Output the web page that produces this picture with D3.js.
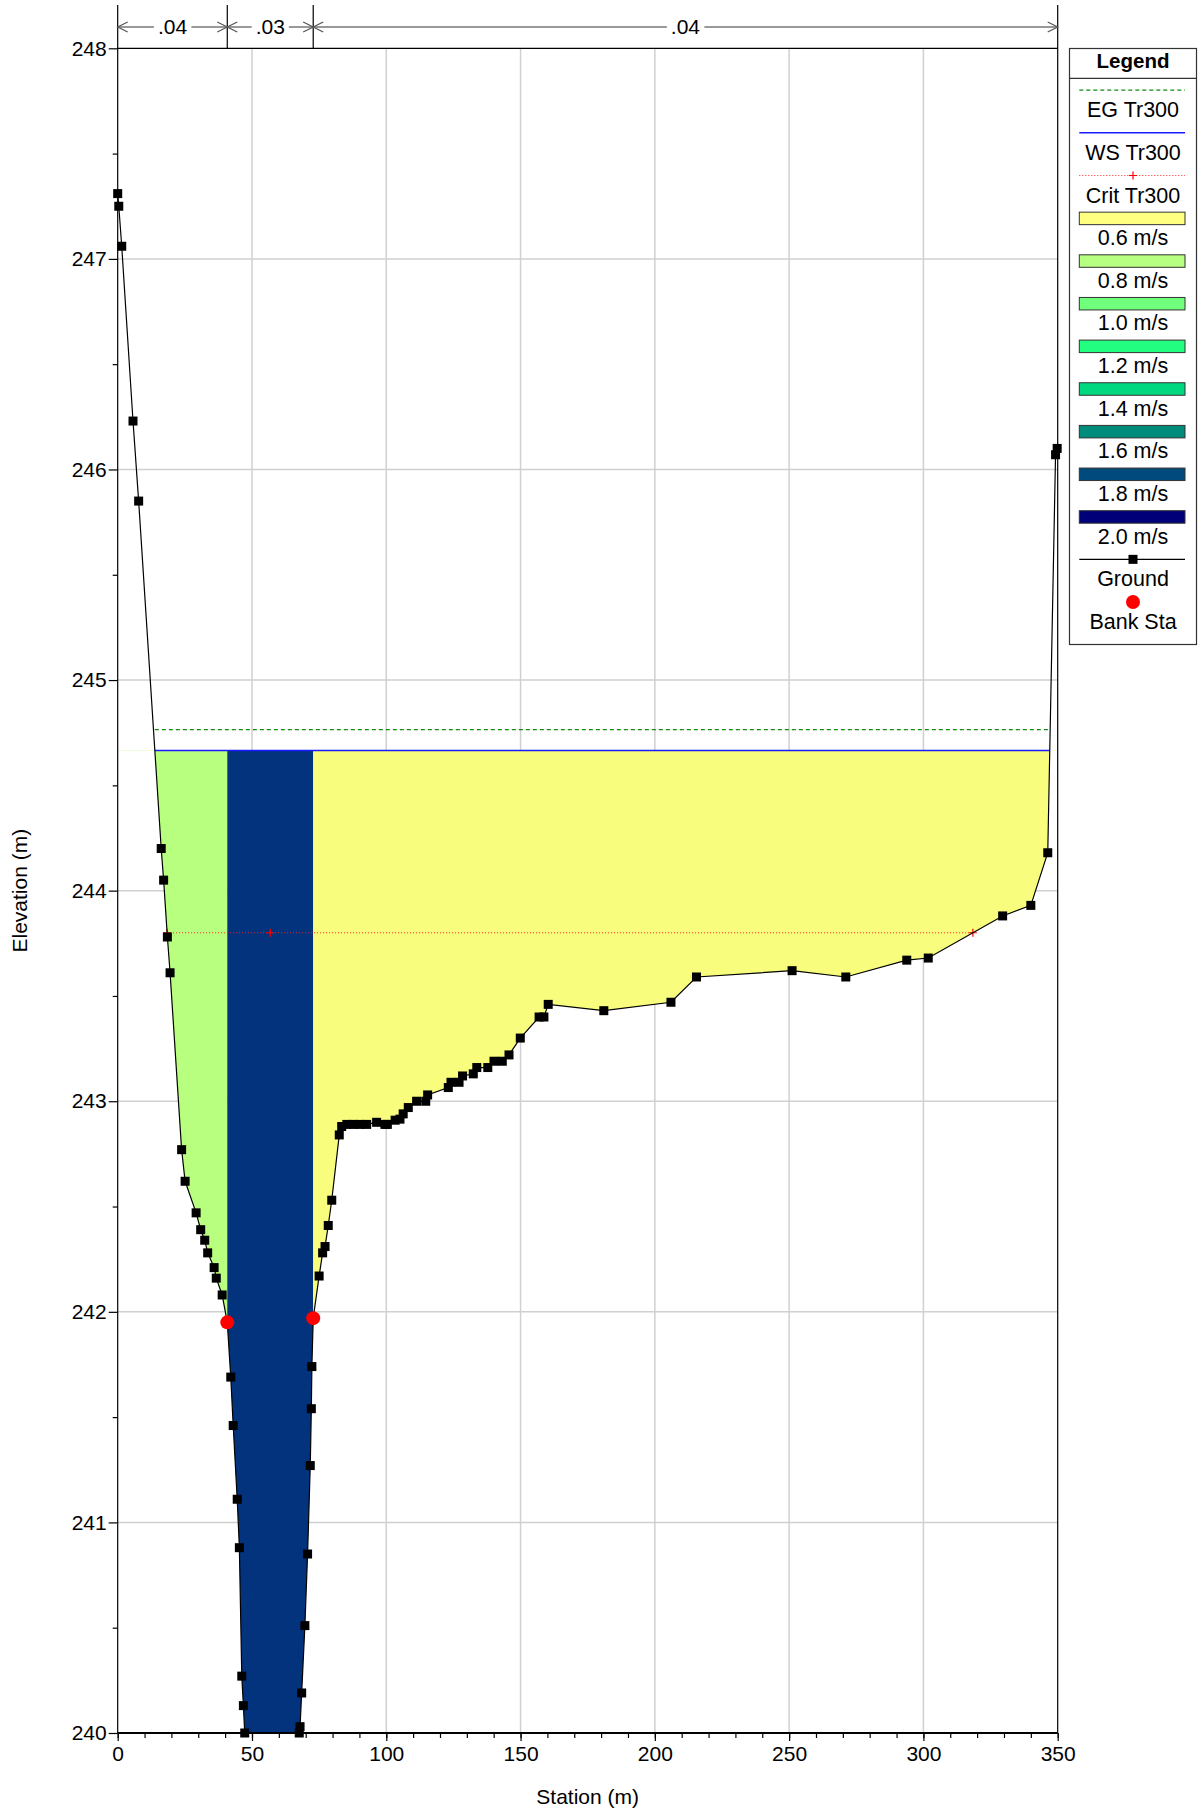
<!DOCTYPE html>
<html lang="en">
<head>
    <meta charset="UTF-8">
    <title>Cross Section Tr300</title>
    <style>
        body { margin: 0; background: #fff; }
        text { font-family: "Liberation Sans", Arial, sans-serif; }
    </style>
</head>
<body>
<script src='https://d3js.org/d3.v7.min.js' type='text/javascript'></script>
<script>
    // ground survey points
    var station = [0, 0.4, 1.5, 5.7, 7.8, 16.2, 17.1, 18.5, 19.5, 23.8, 25.1, 29.2, 30.9, 32.4, 33.5, 35.9, 36.7, 38.9,
        40.8, 42.1, 43.0, 44.5, 45.3, 46.2, 46.8, 47.3, 67.6, 67.9, 68.5, 69.7, 70.7, 71.7, 72.1, 72.3, 72.8,
        75.0, 76.3, 77.2, 78.4, 79.7, 82.5, 83.4, 85.3, 87.7, 90.2, 92.7, 96.4, 99.5, 100.4, 103.3, 105.1,
        106.3, 108.2, 111.3, 114.7, 115.4, 123.1, 124.1, 127.1, 128.4, 132.4, 133.7, 137.8, 140.1, 143.2,
        145.7, 149.9, 156.9, 158.7, 160.3, 181.0, 206.0, 215.5, 251.1, 271.1, 293.8, 301.8, 329.5, 340.0,
        346.3, 349.2, 349.8];
    var elevation = [247.31, 247.25, 247.06, 246.23, 245.85, 244.20, 244.05, 243.78, 243.61, 242.77, 242.62, 242.47, 242.39, 242.34, 242.28, 242.21, 242.16, 242.08,
        241.95, 241.69, 241.46, 241.11, 240.88, 240.27, 240.13, 240.00, 240.00, 240.03, 240.19, 240.51, 240.85, 241.27, 241.54, 241.74, 241.97,
        242.17, 242.28, 242.31, 242.41, 242.53, 242.84, 242.88, 242.89, 242.89, 242.89, 242.89, 242.90, 242.89, 242.89, 242.91, 242.915,
        242.94, 242.97, 243.00, 243.00, 243.03, 243.065, 243.09, 243.09, 243.12, 243.13, 243.16, 243.16, 243.19, 243.19,
        243.22, 243.30, 243.40, 243.40, 243.46, 243.43, 243.47, 243.59, 243.62, 243.59, 243.67, 243.68, 243.88, 243.93,
        244.18, 246.07, 246.10];
    var bankStations = [40.8, 72.8];
    var wsElev = 244.665;
    var egElev = 244.765;
    var critElev = 243.80;
    var nValues = [".04", ".03", ".04"];
    var zoneColors = ["#b9ff7f", "#02337c", "#f9fd7d"];
    var xTicks = [0, 50, 100, 150, 200, 250, 300, 350];
    var yTicks = [240, 241, 242, 243, 244, 245, 246, 247, 248];
    var velLabels = ["0.6 m/s", "0.8 m/s", "1.0 m/s", "1.2 m/s", "1.4 m/s", "1.6 m/s", "1.8 m/s", "2.0 m/s"];
    var velColors = ["#ffff80", "#b6ff80", "#70ff7c", "#22ff80", "#00d880", "#008c7a", "#004a7e", "#000078"];

    const W = 1198, H = 1812;
    const pL = 117.7, pR = 1057.7, pT = 48.3, pB = 1733;

    const svg = d3.select("body").append("svg")
        .attr("width", W)
        .attr("height", H);

    const x = d3.scaleLinear().domain([0, 350]).range([pL, pR]);
    const y = d3.scaleLinear().domain([240, 248]).range([pB, pT]);

    const defs = svg.append("defs");
    defs.append("clipPath").attr("id", "plotClip")
        .append("rect").attr("x", pL).attr("y", pT).attr("width", pR - pL).attr("height", pB - pT);

    // grid
    svg.append("g").selectAll("line")
        .data(xTicks.slice(1, -1))
        .enter().append("line")
        .attr("x1", d => x(d)).attr("x2", d => x(d))
        .attr("y1", pT).attr("y2", pB)
        .attr("stroke", "#d0d0d0").attr("stroke-width", 1.5);
    svg.append("g").selectAll("line")
        .data(yTicks.slice(1, -1))
        .enter().append("line")
        .attr("x1", pL).attr("x2", pR)
        .attr("y1", d => y(d)).attr("y2", d => y(d))
        .attr("stroke", "#d0d0d0").attr("stroke-width", 1.5);

    // water edges where ground crosses a level
    function crossings(level) {
        var res = [];
        for (var i = 0; i < station.length - 1; i++) {
            var a = elevation[i] - level, b = elevation[i + 1] - level;
            if (a === 0) res.push(station[i]);
            else if (a * b < 0) res.push(station[i] + (station[i + 1] - station[i]) * a / (a - b));
        }
        return [d3.min(res), d3.max(res)];
    }
    var wsEdge = crossings(wsElev);
    var critEdge = crossings(critElev);

    // velocity fill zones, clipped by bank stations and water surface
    var pts = station.map((s, i) => [s, elevation[i]]);
    var poly = pts.concat([[350, wsElev], [0, wsElev]]);
    var line = d3.line().x(d => x(d[0])).y(d => y(d[1]));
    var zones = [[0, bankStations[0]], [bankStations[0], bankStations[1]], [bankStations[1], 350]];
    zones.forEach(function (z, i) {
        defs.append("clipPath").attr("id", "zone" + i)
            .append("rect")
            .attr("x", x(z[0])).attr("y", y(wsElev))
            .attr("width", x(z[1]) - x(z[0])).attr("height", pB - y(wsElev));
        svg.append("g").attr("clip-path", "url(#plotClip)")
            .append("path")
            .attr("d", line(poly) + "Z")
            .attr("fill", zoneColors[i])
            .attr("clip-path", "url(#zone" + i + ")");
    });

    // EG, WS, crit
    svg.append("line")
        .attr("x1", x(wsEdge[0])).attr("x2", x(wsEdge[1]))
        .attr("y1", y(egElev)).attr("y2", y(egElev))
        .attr("stroke", "#128a12").attr("stroke-width", 1.2).attr("stroke-dasharray", "4,3");
    svg.append("line")
        .attr("x1", x(wsEdge[0])).attr("x2", x(wsEdge[1]))
        .attr("y1", y(wsElev)).attr("y2", y(wsElev))
        .attr("stroke", "#1a1aff").attr("stroke-width", 1.5);
    svg.append("line")
        .attr("x1", x(critEdge[0])).attr("x2", x(critEdge[1]))
        .attr("y1", y(critElev)).attr("y2", y(critElev))
        .attr("stroke", "#ff2020").attr("stroke-width", 1).attr("stroke-dasharray", "1,2");
    var critMarks = [critEdge[0], (bankStations[0] + bankStations[1]) / 2, critEdge[1]];
    svg.append("g").selectAll("path")
        .data(critMarks)
        .enter().append("path")
        .attr("d", d => "M" + (x(d) - 4) + "," + y(critElev) + "h8M" + x(d) + "," + (y(critElev) - 4) + "v8")
        .attr("stroke", "#ff0000").attr("stroke-width", 1.2);

    // ground
    const g = svg.append("g").attr("clip-path", "url(#plotClip)");
    g.append("path")
        .attr("d", line(pts))
        .attr("fill", "none")
        .attr("stroke", "#000").attr("stroke-width", 1.2);
    svg.append("g").selectAll("rect")
        .data(pts)
        .enter().append("rect")
        .attr("x", d => x(d[0]) - 4.5).attr("y", d => y(d[1]) - 4.5)
        .attr("width", 9).attr("height", 9)
        .attr("fill", "#000");

    // bank stations
    svg.append("g").selectAll("circle")
        .data(bankStations)
        .enter().append("circle")
        .attr("cx", d => x(d))
        .attr("cy", d => y(elevation[station.indexOf(d)]))
        .attr("r", 7)
        .attr("fill", "#ff0000");

    // frame
    svg.append("line").attr("x1", pL).attr("x2", pR).attr("y1", pT).attr("y2", pT)
        .attr("stroke", "#000").attr("stroke-width", 1.2);
    svg.append("line").attr("x1", pL).attr("x2", pR).attr("y1", pB).attr("y2", pB)
        .attr("stroke", "#000").attr("stroke-width", 2);
    svg.append("line").attr("x1", pL).attr("x2", pL).attr("y1", 5).attr("y2", pB)
        .attr("stroke", "#000").attr("stroke-width", 1.2);
    svg.append("line").attr("x1", pR).attr("x2", pR).attr("y1", 5).attr("y2", pB)
        .attr("stroke", "#000").attr("stroke-width", 1.2);

    // y axis
    const yAxis = d3.axisLeft(y).tickValues(yTicks).tickSize(9).tickFormat(d3.format("d"));
    const ya = svg.append("g").attr("transform", "translate(" + pL + ",0)").call(yAxis);
    const yMinor = d3.axisLeft(y).tickValues(d3.range(240.5, 248, 1)).tickSize(5).tickFormat("");
    svg.append("g").attr("transform", "translate(" + pL + ",0)").call(yMinor);

    // x axis
    const xAxis = d3.axisBottom(x).tickValues(xTicks).tickSize(8).tickFormat(d3.format("d"));
    const xa = svg.append("g").attr("transform", "translate(0," + pB + ")").call(xAxis);
    const xMinor = d3.axisBottom(x).tickValues(d3.range(0, 351, 10)).tickSize(5).tickFormat("");
    svg.append("g").attr("transform", "translate(0," + pB + ")").call(xMinor);

    svg.selectAll(".domain").remove();
    svg.selectAll(".tick line").attr("stroke", "#000").attr("stroke-width", 1.2);
    svg.selectAll(".tick text")
        .style("font-family", "'Liberation Sans', Arial, sans-serif")
        .style("font-size", "21px")
        .attr("fill", "#000");
    ya.selectAll(".tick text").attr("x", -11);
    xa.selectAll(".tick text").attr("y", 13);

    svg.append("text")
        .attr("x", (pL + pR) / 2).attr("y", 1804)
        .attr("text-anchor", "middle")
        .style("font-size", "21px")
        .text("Station (m)");
    svg.append("text")
        .attr("transform", "translate(27," + ((pT + pB) / 2) + ") rotate(-90)")
        .attr("text-anchor", "middle")
        .style("font-size", "21px")
        .text("Elevation (m)");

    // roughness dimension bar
    var dims = [0, bankStations[0], bankStations[1], 350];
    var dy = 27;
    svg.append("g").selectAll("line")
        .data(dims.slice(1, 3))
        .enter().append("line")
        .attr("x1", d => x(d)).attr("x2", d => x(d))
        .attr("y1", 5).attr("y2", pT)
        .attr("stroke", "#000").attr("stroke-width", 1.2);
    nValues.forEach(function (n, i) {
        var a = x(dims[i]), b = x(dims[i + 1]);
        var bar = svg.append("g");
        bar.append("line").attr("x1", a).attr("x2", b).attr("y1", dy).attr("y2", dy)
            .attr("stroke", "#777").attr("stroke-width", 1.5);
        bar.append("path")
            .attr("d", "M" + (a + 10) + "," + (dy - 5) + "L" + a + "," + dy + "L" + (a + 10) + "," + (dy + 5) +
                "M" + (b - 10) + "," + (dy - 5) + "L" + b + "," + dy + "L" + (b - 10) + "," + (dy + 5))
            .attr("fill", "none").attr("stroke", "#555").attr("stroke-width", 1.2);
        var t = bar.append("text")
            .attr("x", (a + b) / 2).attr("y", dy + 7)
            .attr("text-anchor", "middle")
            .style("font-size", "21px")
            .text(n);
        var bb = t.node().getBBox();
        bar.insert("rect", "text")
            .attr("x", bb.x - 4).attr("y", dy - 3).attr("width", bb.width + 8).attr("height", 6)
            .attr("fill", "#fff");
    });

    // legend
    const lg = svg.append("g");
    const lx = 1069.5, lw = 127, lcx = lx + lw / 2;
    const lx1 = 1079.3, lx2 = 1185;
    lg.append("rect").attr("x", lx).attr("y", 48.5).attr("width", lw).attr("height", 596)
        .attr("fill", "#fff").attr("stroke", "#333").attr("stroke-width", 1.2);
    lg.append("line").attr("x1", lx).attr("x2", lx + lw).attr("y1", 78.3).attr("y2", 78.3)
        .attr("stroke", "#333").attr("stroke-width", 1.2);
    lg.append("text").attr("x", lcx).attr("y", 68).attr("text-anchor", "middle")
        .style("font-size", "20.5px").style("font-weight", "bold").text("Legend");

    var step = 42.65, y0 = 90.2;
    var labels = ["EG Tr300", "WS Tr300", "Crit Tr300"].concat(velLabels).concat(["Ground", "Bank Sta"]);
    labels.forEach(function (lab, i) {
        lg.append("text").attr("x", lcx).attr("y", y0 + i * step + 27)
            .attr("text-anchor", "middle").style("font-size", "21.5px").text(lab);
    });
    lg.append("line").attr("x1", lx1).attr("x2", lx2).attr("y1", y0).attr("y2", y0)
        .attr("stroke", "#128a12").attr("stroke-width", 1.2).attr("stroke-dasharray", "4,3");
    lg.append("line").attr("x1", lx1).attr("x2", lx2).attr("y1", y0 + step).attr("y2", y0 + step)
        .attr("stroke", "#1a1aff").attr("stroke-width", 1.5);
    lg.append("line").attr("x1", lx1).attr("x2", lx2).attr("y1", y0 + 2 * step).attr("y2", y0 + 2 * step)
        .attr("stroke", "#ff2020").attr("stroke-width", 1).attr("stroke-dasharray", "1,2");
    lg.append("path")
        .attr("d", "M" + (lcx - 4) + "," + (y0 + 2 * step) + "h8M" + lcx + "," + (y0 + 2 * step - 4) + "v8")
        .attr("stroke", "#ff0000").attr("stroke-width", 1.2);
    velColors.forEach(function (c, i) {
        var cy = y0 + (3 + i) * step;
        lg.append("rect").attr("x", lx1).attr("y", cy - 6).attr("width", lx2 - lx1).attr("height", 12.5)
            .attr("fill", c).attr("stroke", "#333").attr("stroke-width", 1);
    });
    var gy = y0 + 11 * step;
    lg.append("line").attr("x1", lx1).attr("x2", lx2).attr("y1", gy).attr("y2", gy)
        .attr("stroke", "#000").attr("stroke-width", 1.2);
    lg.append("rect").attr("x", lcx - 4.5).attr("y", gy - 4.5).attr("width", 9).attr("height", 9).attr("fill", "#000");
    lg.append("circle").attr("cx", lcx).attr("cy", y0 + 12 * step).attr("r", 7).attr("fill", "#ff0000");
</script>
</body>
</html>
